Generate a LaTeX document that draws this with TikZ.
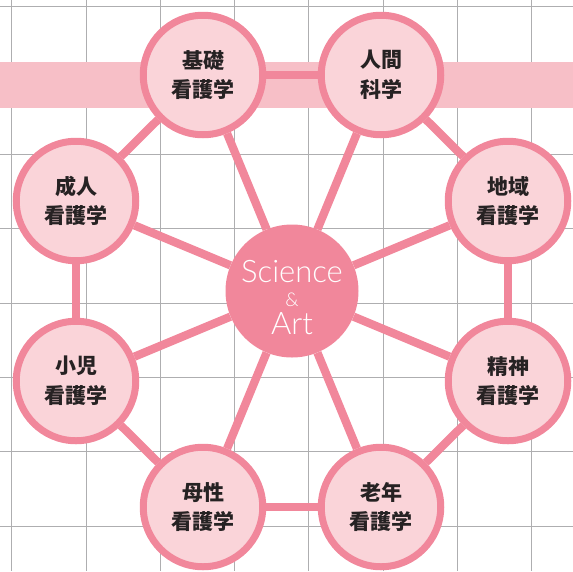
\documentclass[tikz,border=0pt]{standalone}
\usepackage{fontspec}
\usepackage{tikz}
\newfontfamily\jpfont{Noto Sans CJK JP}
\newfontfamily\sciencefont{Lato}[UprightFont=* Light]
\definecolor{rimpink}{HTML}{F1879B}
\definecolor{fillpink}{HTML}{FAD4D9}
\definecolor{bandpink}{HTML}{F7BFC7}
\definecolor{gridgray}{HTML}{AEAEB0}
\definecolor{inkgray}{HTML}{262223}

\begin{document}
\begin{tikzpicture}[
    x=1pt, y=-1pt,
    field/.style={circle, draw=rimpink, line width=7pt, fill=fillpink,
      minimum size=119.5pt, inner sep=0pt, align=center, text=inkgray,
      font=\jpfont\bfseries\fontsize{21}{29.7}\selectfont},
    hub/.style={circle, fill=rimpink, minimum size=133pt, inner sep=0pt},
    hubtext/.style={align=center, text=white, inner sep=0pt, yshift=-7pt,
      font=\sciencefont\fontsize{31}{31}\selectfont},
    link/.style={draw=rimpink, line width=8.3pt},
  ]
  \useasboundingbox (0,0) rectangle (573,571);

  % Grid and band
  \foreach \k in {0,...,7} {
    \draw[gridgray, line width=1pt] ({11.7+74.3*\k},0) -- ({11.7+74.3*\k},571);
    \draw[gridgray, line width=1pt] (0,{6+74.3*\k}) -- (573,{6+74.3*\k});
  }
  \fill[bandpink] (0,62.3) rectangle (573,107.7);

  % Fields
  \node[hub, label={[hubtext]center:{Science\\[-7pt]{\fontsize{19}{19}\selectfont\&}\\[-3pt]Art}}]
    (core) at (292,291) {};
  \node[field] (kiso)    at (203,75)  {基礎\\看護学};
  \node[field] (ningen)  at (381,75)  {人間\\科学};
  \node[field] (chiiki)  at (508,201) {地域\\看護学};
  \node[field] (seishin) at (508,381) {精神\\看護学};
  \node[field] (rounen)  at (381,507) {老年\\看護学};
  \node[field] (bosei)   at (203,507) {母性\\看護学};
  \node[field] (shouni)  at (76,381)  {小児\\看護学};
  \node[field] (seijin)  at (76,201)  {成人\\看護学};

  % Links
  \foreach \a/\b in {kiso/ningen, ningen/chiiki, chiiki/seishin, seishin/rounen,
                     rounen/bosei, bosei/shouni, shouni/seijin, seijin/kiso}
    \path[link] (\a) -- (\b);
  \foreach \a in {kiso, ningen, chiiki, seishin, rounen, bosei, shouni, seijin}
    \path[link] (core) -- (\a);
\end{tikzpicture}
\end{document}
